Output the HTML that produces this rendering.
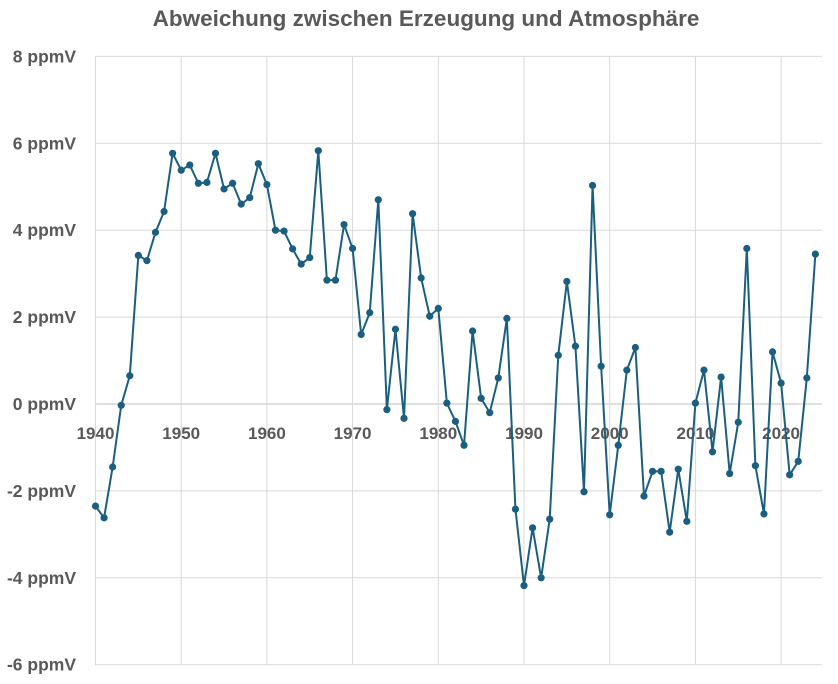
<!DOCTYPE html>
<html><head><meta charset="utf-8"><style>
body{margin:0;background:#fff;width:838px;height:679px;overflow:hidden}
svg text{font-family:"Liberation Sans",sans-serif;font-weight:bold;fill:#595959}
</style></head><body>
<svg id="c" width="838" height="679">
<text x="426" y="26" text-anchor="middle" font-size="22.5">Abweichung zwischen Erzeugung und Atmosphäre</text>
<g id="grid"></g><g id="axes"></g><g id="series"></g>
</svg>
<script>
const years=[];for(let y=1940;y<=2024;y++)years.push(y);
const values=[-2.35,-2.62,-1.45,-0.03,0.65,3.42,3.3,3.95,4.43,5.77,5.38,5.5,5.08,5.1,5.77,4.95,5.08,4.6,4.75,5.53,5.05,4.0,3.98,3.57,3.22,3.37,5.83,2.85,2.85,4.13,3.58,1.6,2.1,4.7,-0.13,1.72,-0.33,4.38,2.9,2.02,2.2,0.02,-0.4,-0.95,1.68,0.13,-0.2,0.6,1.97,-2.42,-4.18,-2.85,-4.0,-2.65,1.12,2.82,1.33,-2.02,5.03,0.87,-2.55,-0.95,0.78,1.3,-2.12,-1.55,-1.55,-2.95,-1.5,-2.7,0.02,0.78,-1.1,0.62,-1.6,-0.42,3.58,-1.42,-2.53,1.2,0.48,-1.63,-1.32,0.6,3.45];
const yTicks=[8,6,4,2,0,-2,-4,-6];
const xTicks=[1940,1950,1960,1970,1980,1990,2000,2010,2020];
const NS="http://www.w3.org/2000/svg";
const X=v=>95.5+(v-1940)*8.57;
const Y=v=>404-v*43.45;
function mk(t,a,p){const e=document.createElementNS(NS,t);for(const k in a)e.setAttribute(k,a[k]);p.appendChild(e);return e;}
const grid=document.getElementById('grid'),axes=document.getElementById('axes'),ser=document.getElementById('series');
yTicks.forEach(v=>{
 const l=mk('line',{x1:95,x2:822,y1:Y(v),y2:Y(v),stroke:v===0?'#bfbfbf':'#d9d9d9','stroke-width':1},grid);
 
 
 const t=mk('text',{x:76,y:Y(v)+6,'text-anchor':'end','font-size':17.5},axes);t.textContent=v+' ppmV';
 
 
});
xTicks.forEach(v=>{
 const l=mk('line',{x1:X(v),x2:X(v),y1:Y(8),y2:Y(-6),stroke:'#d9d9d9','stroke-width':1},grid);
 
 
 const t=mk('text',{x:X(v),y:Y(0)+35,'text-anchor':'middle','font-size':17},axes);t.textContent=v;
 
 
});
const pl=mk('polyline',{points:years.map((y,i)=>X(y)+','+Y(values[i])).join(' '),fill:'none',stroke:'#1a5f7f','stroke-width':2},ser);


years.forEach((y,i)=>{
 const c=mk('circle',{cx:X(y),cy:Y(values[i]),r:3.6,fill:'#1a5f7f'},ser);
 
 
});
</script>
</body></html>
